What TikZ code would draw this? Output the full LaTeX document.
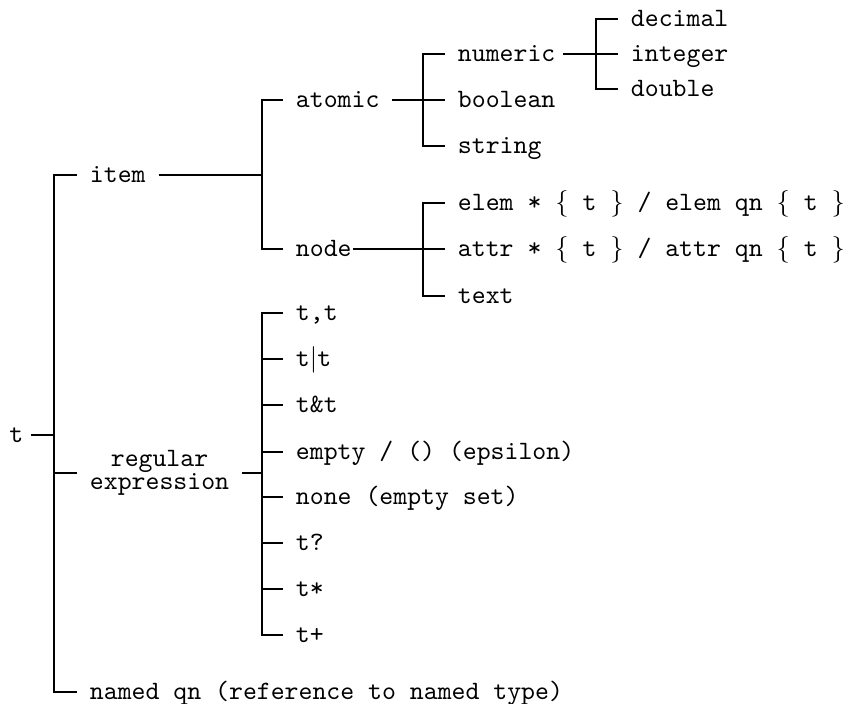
\documentclass[tikz,border=0pt]{standalone}
\usepackage{tikz}

\begin{document}
\begin{tikzpicture}[x=0.3774pt, y=-0.3774pt, line width=0.8pt,
  lbl/.style={font=\ttfamily, inner xsep=4.5pt, inner ysep=0pt,
    text height=7pt, text depth=1pt, anchor=west},
  twoline/.style={font=\ttfamily, inner xsep=4.5pt, inner ysep=0pt,
    align=center, anchor=west}]

  %% ════ root and first level ════
  \node[lbl, anchor=east, inner xsep=2.5pt] (t) at (31,435) {t};
  \node[lbl] (item) at (77,175) {item};
  \node[twoline] (regex) at (77,473) {regular\\[-3.2pt]expression};
  \node[lbl] (named) at (77,692) {named qn (reference to named type)};

  %% ════ item ════
  \node[lbl] (atomic) at (283,100) {atomic};
  \node[lbl] (nodety) at (283,249) {node};

  \node[lbl] (numeric) at (445,54) {numeric};
  \node[lbl] (boolean) at (445,100) {boolean};
  \node[lbl] (string) at (445,146) {string};

  \node[lbl] (decimal) at (618,19) {decimal};
  \node[lbl] (integer) at (618,54) {integer};
  \node[lbl] (double) at (618,89) {double};

  \node[lbl] (elem) at (445,203) {elem * $\{$ t $\}$ / elem qn $\{$ t $\}$};
  \node[lbl] (attr) at (445,249) {attr * $\{$ t $\}$ / attr qn $\{$ t $\}$};
  \node[lbl] (text) at (445,296) {text};

  %% ════ regular expression ════
  \node[lbl] (seq) at (283,313) {t,t};
  \node[lbl] (alt) at (283,359) {t$|$t};
  \node[lbl] (inter) at (283,405) {t\&t};
  \node[lbl] (empty) at (283,452) {empty / () (epsilon)};
  \node[lbl] (none) at (283,497) {none (empty set)};
  \node[lbl] (opt) at (283,543) {t?};
  \node[lbl] (star) at (283,589) {t*};
  \node[lbl] (plus) at (283,635) {t+};

  %% ════ bar points ════
  \coordinate (tbar) at (54,435);
  \coordinate (itembar) at (262,175);
  \coordinate (rxbar) at (262,473);
  \coordinate (atbar) at (423,100);
  \coordinate (ndbar) at (423,249);
  \coordinate (numbar) at (596,54);

  %% ════ connectors ════
  \draw (t.east) -- (tbar);
  \draw (tbar) |- (item.west);
  \draw (tbar) |- (regex.west);
  \draw (tbar) |- (named.west);

  \draw (item.east) -- (itembar);
  \draw (itembar) |- (atomic.west);
  \draw (itembar) |- (nodety.west);

  \draw (atomic.east) -- (atbar);
  \draw (atbar) |- (numeric.west);
  \draw (atbar) |- (boolean.west);
  \draw (atbar) |- (string.west);

  \draw ([xshift=-2pt]numeric.east) -- (numbar);
  \draw (numbar) |- (decimal.west);
  \draw (numbar) |- (integer.west);
  \draw (numbar) |- (double.west);

  % "node" has its line right at the text
  \draw ([xshift=-4.5pt]nodety.east) -- (ndbar);
  \draw (ndbar) |- (elem.west);
  \draw (ndbar) |- (attr.west);
  \draw (ndbar) |- (text.west);

  \draw (regex.east) -- (rxbar);
  \draw (rxbar) |- (seq.west);
  \draw (rxbar) |- (alt.west);
  \draw (rxbar) |- (inter.west);
  \draw (rxbar) |- (empty.west);
  \draw (rxbar) |- (none.west);
  \draw (rxbar) |- (opt.west);
  \draw (rxbar) |- (star.west);
  \draw (rxbar) |- (plus.west);

  % fix the canvas to the reference size
  \pgfresetboundingbox
  \path[use as bounding box] (0,0) rectangle (846,704);
\end{tikzpicture}
\end{document}
